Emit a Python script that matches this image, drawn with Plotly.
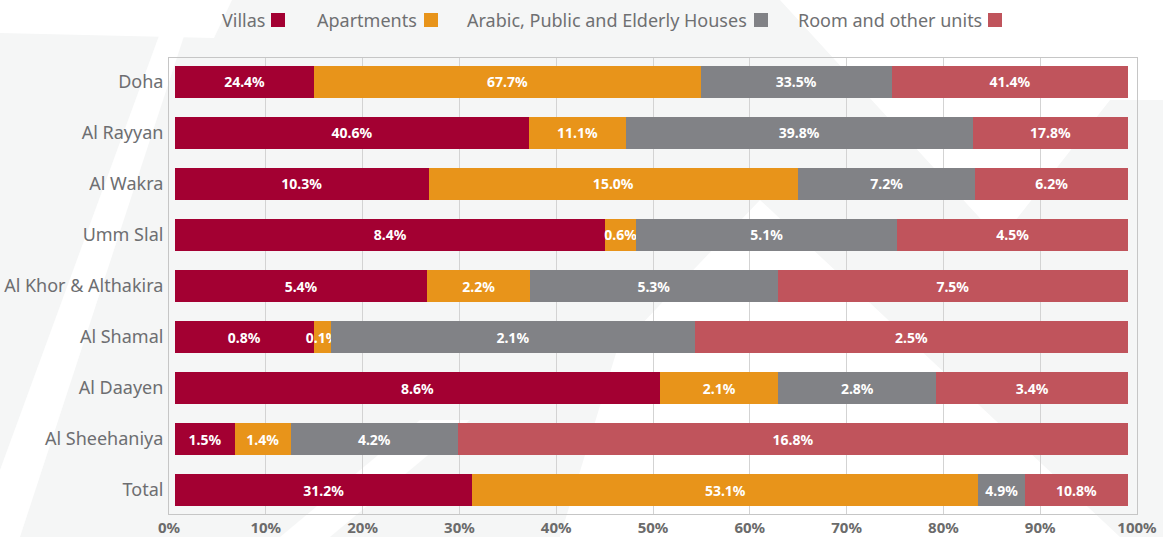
import plotly.graph_objects as go

regions = ["Doha", "Al Rayyan", "Al Wakra", "Umm Slal", "Al Khor & Althakira",
           "Al Shamal", "Al Daayen", "Al Sheehaniya", "Total"]
villas = [24.4, 40.6, 10.3, 8.4, 5.4, 0.8, 8.6, 1.5, 31.2]
apartments = [67.7, 11.1, 15.0, 0.6, 2.2, 0.1, 2.1, 1.4, 53.1]
arabic_houses = [33.5, 39.8, 7.2, 5.1, 5.3, 2.1, 2.8, 4.2, 4.9]
rooms = [41.4, 17.8, 6.2, 4.5, 7.5, 2.5, 3.4, 16.8, 10.8]

series_names = ["Villas", "Apartments", "Arabic, Public and Elderly Houses", "Room and other units"]
series_values = [villas, apartments, arabic_houses, rooms]
colors = ["#a30032", "#e8941a", "#818286", "#c0545c"]
x_ticks = list(range(0, 101, 10))

FONT = "Noto Sans"
W, H = 1163, 537
L, R, T, B = 169, 1137, 58, 514


def px(x):
    return (x - L) / (R - L)


def py(y):
    return (B - y) / (B - T)


fig = go.Figure()
for name, vals, col in zip(series_names, series_values, colors):
    fig.add_trace(go.Bar(
        y=regions, x=vals, name=name, orientation="h",
        marker=dict(color=col, line=dict(width=0)),
        text=[f"{v:.1f}%" for v in vals],
        textposition="inside", insidetextanchor="middle", textangle=0,
        textfont=dict(family=FONT, size=14, color="white", weight="bold"),
        hoverinfo="skip", showlegend=False,
    ))

# helper trace so the tick/grid axis exists
fig.add_trace(go.Scatter(x=[x_ticks[0], x_ticks[-1]], y=[regions[0], regions[0]],
                         xaxis="x2", mode="markers", marker=dict(opacity=0),
                         hoverinfo="skip", showlegend=False))

shapes = []
# faint watermark (white diagonal bands on light grey)
wm = [
    [(0, 0), (232, 0), (214, 38), (0, 33)],
    [(160, 33), (185, 33), (20, 537), (0, 537), (0, 470)],
    [(780, 0), (1163, 0), (1163, 100), (1110, 100), (1000, 240)],
    [(617, 350), (760, 200), (1120, 537), (560, 537)],
    [(280, 537), (420, 420), (470, 420), (330, 537)],
]
for poly in wm:
    path = "M " + " L ".join(f"{px(x)},{py(y)}" for x, y in poly) + " Z"
    shapes.append(dict(type="path", path=path, xref="paper", yref="paper",
                       fillcolor="white", line=dict(width=0), layer="below"))

annotations = []
legend_items = [(266, 271), (418, 424), (748, 754), (983, 988)]
for (tx, sx), name, col in zip(legend_items, series_names, colors):
    annotations.append(dict(text=name, x=px(tx + 1), y=py(20), xref="paper", yref="paper",
                            xanchor="right", yanchor="middle", showarrow=False,
                            font=dict(family=FONT, size=18, color="#6f7072")))
    shapes.append(dict(type="rect", xref="paper", yref="paper",
                       x0=px(sx), x1=px(sx + 14), y0=py(27), y1=py(13),
                       fillcolor=col, line=dict(width=0), layer="above"))

fig.update_layout(
    width=W, height=H,
    margin=dict(l=L, r=W - R, t=T, b=H - B, pad=0, autoexpand=False),
    barmode="stack", barnorm="percent", bargap=0.37,
    paper_bgcolor="#f5f6f6", plot_bgcolor="rgba(0,0,0,0)",
    font=dict(family=FONT),
    xaxis=dict(range=[-0.63, 100.94], showgrid=False, zeroline=False,
               showticklabels=False, showline=False, fixedrange=True, automargin=False),
    xaxis2=dict(overlaying="x", anchor="y", side="bottom", range=[0, 100],
                tickvals=x_ticks, ticktext=[f"{t}%" for t in x_ticks],
                showgrid=True, gridcolor="#d3d3d3", gridwidth=1,
                showline=True, mirror=True, linecolor="#c6c6c6", linewidth=1,
                zeroline=False, ticks="", automargin=False,
                tickfont=dict(family=FONT, size=15, color="#6b6b6b", weight="bold")),
    yaxis=dict(type="category", range=[8.47, -0.47], showgrid=False,
               showline=True, mirror=True, linecolor="#c6c6c6", linewidth=1,
               ticks="outside", ticklen=1, tickcolor="rgba(0,0,0,0)", automargin=False,
               tickfont=dict(family=FONT, size=18, color="#6d6e71")),
    shapes=shapes, annotations=annotations,
    uniformtext=dict(minsize=14, mode="show"),
)

fig.write_html("out.html", config={"displayModeBar": False},
               post_script="document.body.style.margin='0';")
